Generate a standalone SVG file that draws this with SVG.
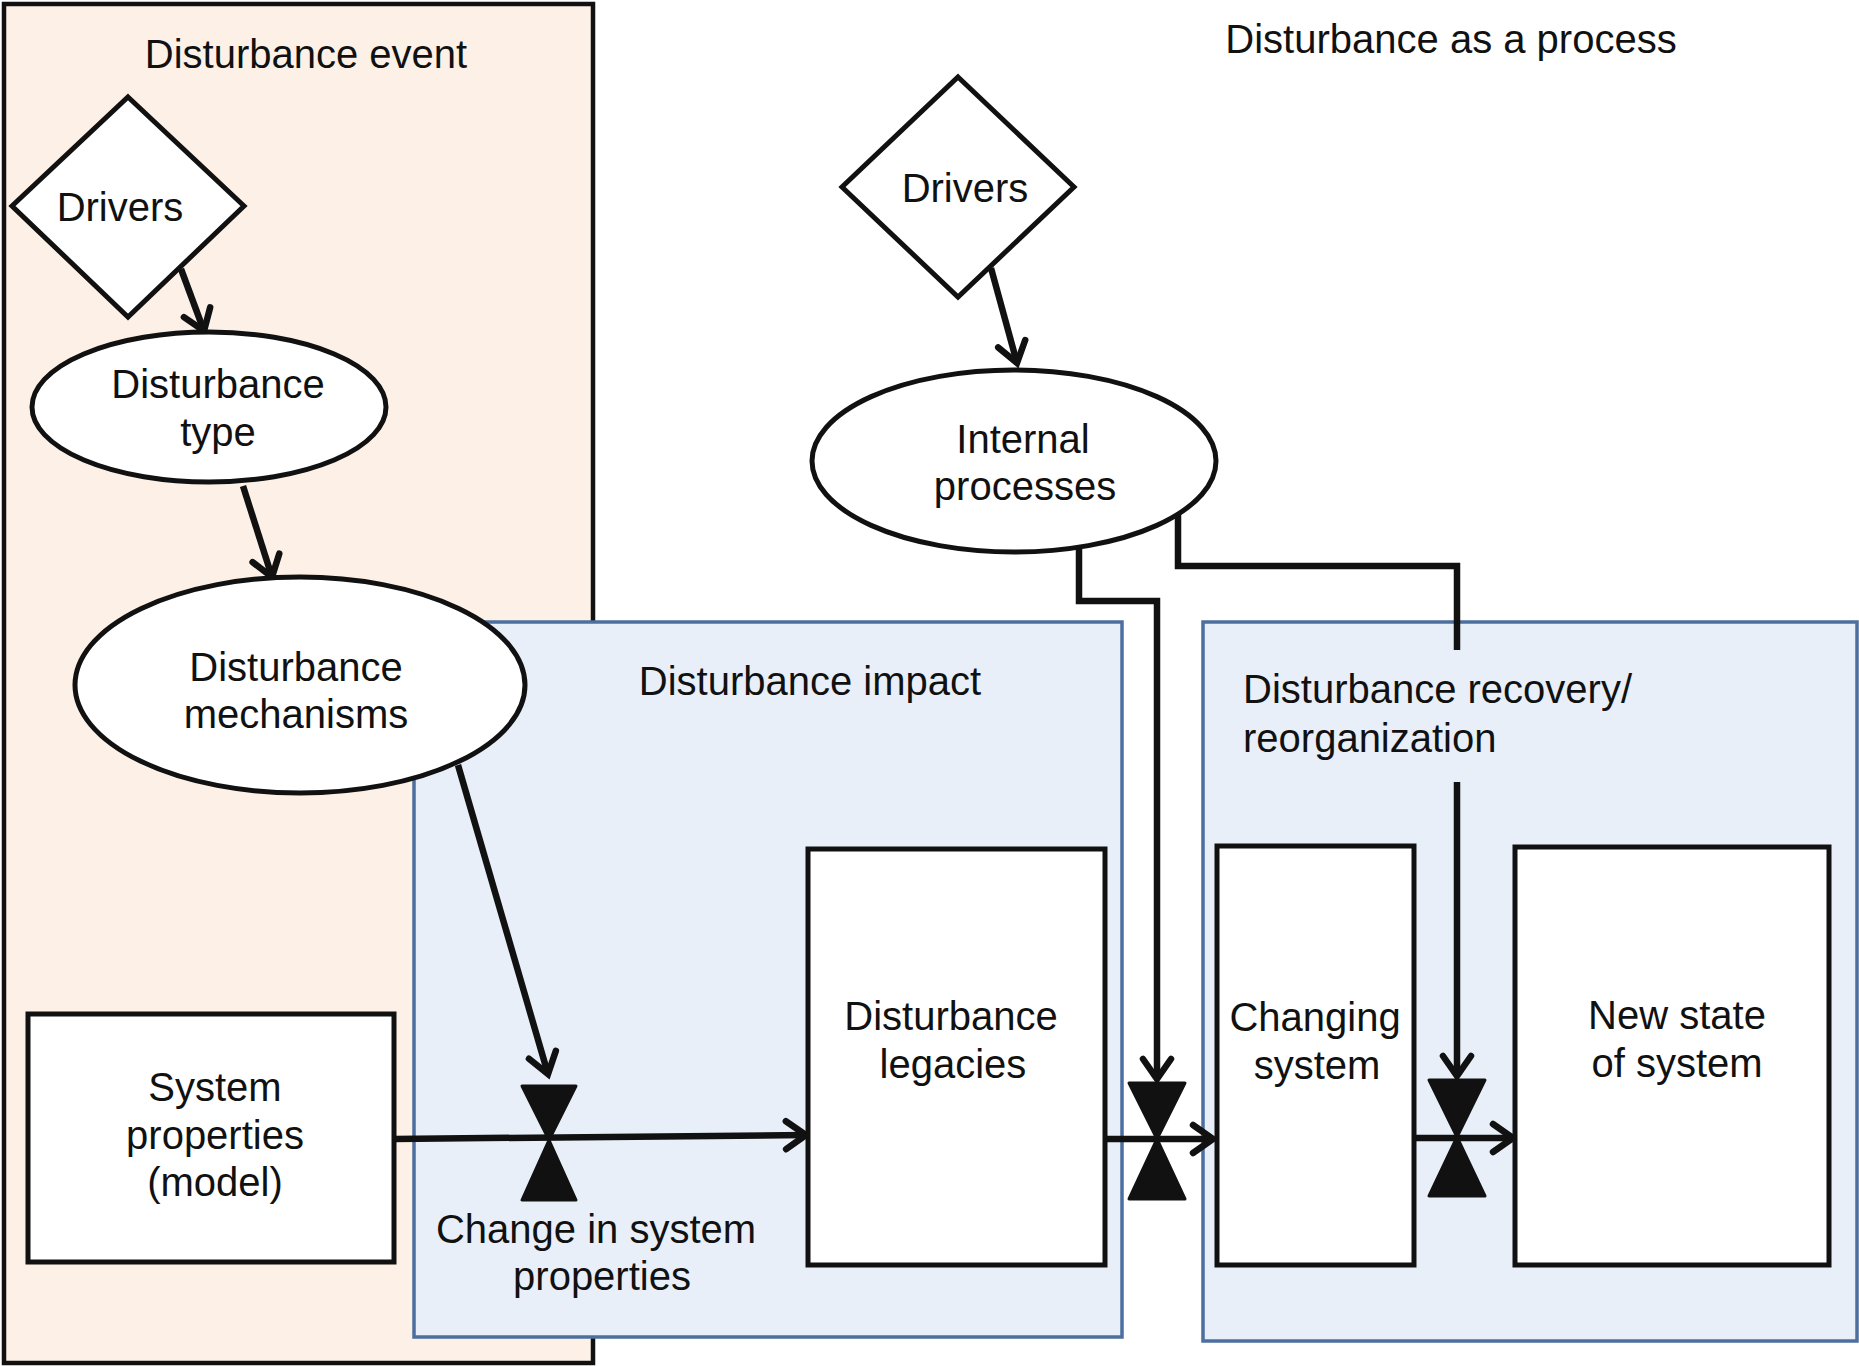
<svg xmlns="http://www.w3.org/2000/svg" width="1859" height="1366" viewBox="0 0 1859 1366">
<style>
text{font-family:"Liberation Sans",Arial,sans-serif;font-size:40px;fill:#111;}
.c{text-anchor:middle;}
.node{fill:#fff;stroke:#111;stroke-width:5;}
.conn{fill:none;stroke:#111;stroke-width:6.5;}
.valve{fill:#111;stroke:#111;stroke-width:3;stroke-linejoin:round;}
.pink{fill:#fdf1e7;stroke:#111;stroke-width:4.5;}
.blue{fill:#e8eff8;stroke:#4c6f9f;stroke-width:3.5;}
</style>
<defs>
<marker id="arr" markerUnits="userSpaceOnUse" markerWidth="40" markerHeight="40" viewBox="0 0 40 40" refX="24" refY="20" orient="auto">
<path d="M4,6 L24,20 L4,34" fill="none" stroke="#111" stroke-width="6.5" stroke-linecap="round"/>
</marker>
</defs>
<rect width="1859" height="1366" fill="#fff"/>

<g id="event-frame">
<rect class="pink" x="4" y="4" width="589" height="1359"/>
<text class="c" x="306" y="68">Disturbance event</text>
</g>
<g id="impact-frame">
<rect class="blue" x="414" y="622" width="708" height="715"/>
<text class="c" x="810" y="695">Disturbance impact</text>
</g>
<g id="recovery-frame">
<rect class="blue" x="1203" y="622" width="654" height="719"/>
<text x="1243" y="703">Disturbance recovery/</text>
<text x="1243" y="752">reorganization</text>
</g>
<text id="title" class="c" x="1451" y="53">Disturbance as a process</text>

<g id="connectors">
<line class="conn" x1="181" y1="269" x2="204" y2="331" marker-end="url(#arr)"/>
<line class="conn" x1="243" y1="486" x2="272" y2="577" marker-end="url(#arr)"/>
<line class="conn" x1="458" y1="765" x2="548" y2="1074" marker-end="url(#arr)"/>
<line class="conn" x1="394" y1="1139" x2="806" y2="1135" marker-end="url(#arr)"/>
<line class="conn" x1="991" y1="268" x2="1017" y2="363" marker-end="url(#arr)"/>
<polyline class="conn" points="1079,549 1079,601 1157,601 1157,1079" marker-end="url(#arr)"/>
<line class="conn" x1="1101" y1="1139" x2="1213" y2="1139" marker-end="url(#arr)"/>
<polyline class="conn" points="1178,513 1178,566 1457,566 1457,650"/>
<line class="conn" x1="1457" y1="782" x2="1457" y2="1076" marker-end="url(#arr)"/>
<line class="conn" x1="1414" y1="1138" x2="1513" y2="1138" marker-end="url(#arr)"/>
</g>

<g id="drivers-1">
<polygon class="node" points="128,97 244,206 128,317 12,206"/>
<text class="c" x="120" y="221">Drivers</text>
</g>
<g id="disturbance-type">
<ellipse class="node" cx="209" cy="407" rx="177" ry="75"/>
<text class="c" x="218" y="398">Disturbance</text>
<text class="c" x="218" y="446">type</text>
</g>
<g id="disturbance-mechanisms">
<ellipse class="node" cx="300" cy="685" rx="225" ry="108"/>
<text class="c" x="296" y="681">Disturbance</text>
<text class="c" x="296" y="728">mechanisms</text>
</g>
<g id="system-properties">
<rect class="node" x="28" y="1014" width="366" height="248"/>
<text class="c" x="215" y="1101">System</text>
<text class="c" x="215" y="1149">properties</text>
<text class="c" x="215" y="1196">(model)</text>
</g>
<g id="valve-1">
<polygon class="valve" points="522,1086 576,1086 549,1140"/>
<polygon class="valve" points="549,1140 522,1200 576,1200"/>
<text class="c" x="596" y="1243">Change in system</text>
<text class="c" x="602" y="1290">properties</text>
</g>
<g id="disturbance-legacies">
<rect class="node" x="808" y="849" width="297" height="416"/>
<text class="c" x="951" y="1030">Disturbance</text>
<text class="c" x="953" y="1078">legacies</text>
</g>
<g id="drivers-2">
<polygon class="node" points="958,77 1074,187 958,297 842,187"/>
<text class="c" x="965" y="202">Drivers</text>
</g>
<g id="internal-processes">
<ellipse class="node" cx="1014" cy="461" rx="202" ry="91"/>
<text class="c" x="1023" y="453">Internal</text>
<text class="c" x="1025" y="500">processes</text>
</g>
<g id="valve-2">
<polygon class="valve" points="1129,1083 1185,1083 1157,1139"/>
<polygon class="valve" points="1157,1139 1129,1199 1185,1199"/>
</g>
<g id="changing-system">
<rect class="node" x="1217" y="846" width="197" height="419"/>
<text class="c" x="1315" y="1031">Changing</text>
<text class="c" x="1317" y="1079">system</text>
</g>
<g id="valve-3">
<polygon class="valve" points="1429,1080 1485,1080 1457,1137"/>
<polygon class="valve" points="1457,1137 1429,1196 1485,1196"/>
</g>
<g id="new-state">
<rect class="node" x="1515" y="847" width="314" height="418"/>
<text class="c" x="1677" y="1029">New state</text>
<text class="c" x="1677" y="1077">of system</text>
</g>
</svg>
